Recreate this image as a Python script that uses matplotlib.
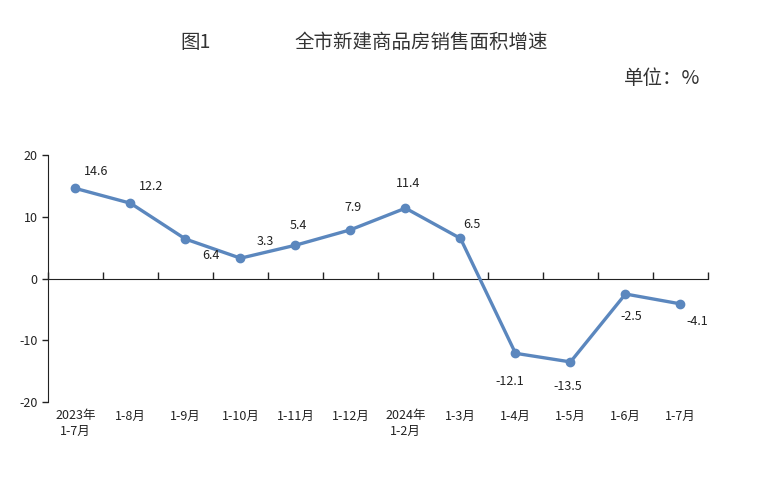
import matplotlib
matplotlib.use('Agg')
import matplotlib.pyplot as plt
import numpy as np

plt.rcParams['font.family'] = ['Noto Sans CJK SC', 'DejaVu Sans']
plt.rcParams['axes.unicode_minus'] = False

categories = ['2023年\n1-7月', '1-8月', '1-9月', '1-10月', '1-11月', '1-12月',
              '2024年\n1-2月', '1-3月', '1-4月', '1-5月', '1-6月', '1-7月']
growth = [14.6, 12.2, 6.4, 3.3, 5.4, 7.9, 11.4, 6.5, -12.1, -13.5, -2.5, -4.1]
yticks = [-20, -10, 0, 10, 20]

# label offsets in points (dx, dy)
offsets = [(15, 12), (15, 12), (18, -12), (18, 12), (2, 14), (2, 16),
           (2, 18), (8, 10), (-4, -20), (-2, -18), (4, -16), (12, -13)]

line_color = '#5B87BE'

fig = plt.figure(figsize=(7.63, 4.97), dpi=100)
ax = fig.add_axes([0.0629, 0.191, 0.865, 0.497])

x = np.arange(len(categories))
ax.plot(x, growth, color=line_color, lw=2.4, marker='o', ms=6,
        markerfacecolor=line_color, markeredgecolor=line_color, zorder=3)

for xi, v, (dx, dy) in zip(x, growth, offsets):
    ax.annotate(f'{v:.1f}', (xi, v), xytext=(dx, dy), textcoords='offset points',
                ha='center', va='center', fontsize=9, color='#222222')

ax.set_xlim(-0.5, len(categories) - 0.5)
ax.set_ylim(-20, 20)
ax.set_yticks(yticks)
ax.tick_params(axis='y', labelsize=9, colors='#222222', length=4, width=1)

ax.spines['top'].set_visible(False)
ax.spines['right'].set_visible(False)
ax.spines['bottom'].set_position(('data', 0))
ax.spines['left'].set_color('#222222')
ax.spines['bottom'].set_color('#222222')

ax.set_xticks(np.arange(len(categories) + 1) - 0.5)
ax.set_xticklabels([])
ax.tick_params(axis='x', direction='in', length=5, width=1, colors='#222222')

for xi, lab in zip(x, categories):
    ax.text(xi, -0.03, lab, transform=ax.get_xaxis_transform(),
            ha='center', va='top', fontsize=9, color='#222222', linespacing=1.2)

fig.text(0.236, 0.915, '图1', fontsize=14, color='#333333', ha='left', va='center')
fig.text(0.552, 0.915, '全市新建商品房销售面积增速', fontsize=14, color='#333333',
         ha='center', va='center')
fig.text(0.918, 0.843, '单位：%', fontsize=14, color='#333333', ha='right', va='center')

fig.savefig('out.png', dpi=100)
